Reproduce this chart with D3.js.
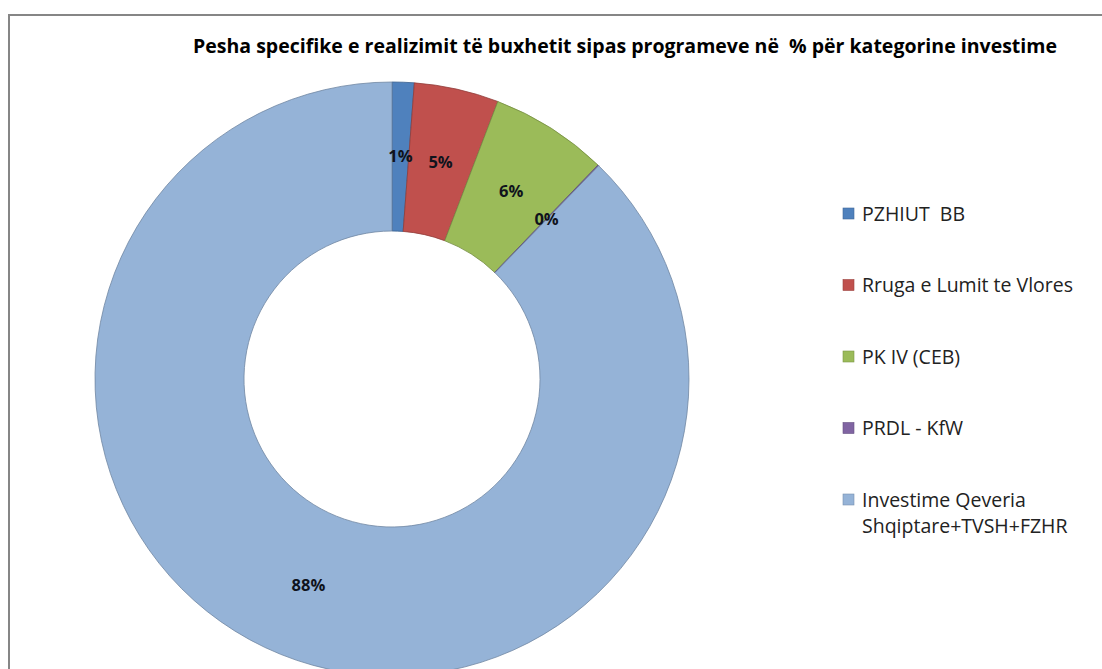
<!DOCTYPE html>
<html lang="sq">
<head>
<meta charset="UTF-8">
<title>Pesha specifike e realizimit</title>
<script src="https://d3js.org/d3.v7.min.js"></script>
<style>
  body { margin: 0; background: #fff; }
  text { font-family: "Open Sans", "Liberation Sans", sans-serif; }
</style>
</head>
<body>
<svg width="1102" height="669"></svg>
<script>
// data (share of total, %)
const programs = ["PZHIUT  BB", "Rruga e Lumit te Vlores", "PK IV (CEB)", "PRDL - KfW",
                  "Investime Qeveria Shqiptare+TVSH+FZHR"];
const shares = [1.2, 4.6, 6.4, 0.05, 87.75];
const colors = ["#4F81BD", "#C0504D", "#9BBB59", "#8064A2", "#95B3D7"];
const title = "Pesha specifike e realizimit të buxhetit sipas programeve në  % për kategorine investime";

const svg = d3.select("svg");

// chart frame
svg.append("rect")
    .attr("x", 9).attr("y", 15)
    .attr("width", 1110).attr("height", 700)
    .attr("fill", "#fff")
    .attr("stroke", "#868686")
    .attr("stroke-width", 2);

// title, sized to span the same width as in the picture
const t = svg.append("text")
    .attr("x", 625).attr("y", 53)
    .attr("text-anchor", "middle")
    .attr("font-size", 18)
    .attr("font-weight", "bold")
    .attr("fill", "#000")
    .style("white-space", "pre")
    .text(title);
const tw = t.node().getComputedTextLength();
t.attr("font-size", 18 * 865 / tw);

// donut
const cx = 392, cy = 379;
const outerR = 297, innerR = 148;

const pie = d3.pie().sort(null).value(d => d);
const arc = d3.arc().innerRadius(innerR).outerRadius(outerR);
const labelArc = d3.arc().innerRadius((innerR + outerR) / 2).outerRadius((innerR + outerR) / 2);

const g = svg.append("g").attr("transform", `translate(${cx},${cy})`);

const arcs = pie(shares);

g.selectAll("path")
    .data(arcs)
    .enter()
    .append("path")
    .attr("d", arc)
    .attr("fill", (d, i) => colors[i])
    .attr("stroke", (d, i) => d3.color(colors[i]).darker(0.8))
    .attr("stroke-width", 0.8);

g.selectAll("text.lbl")
    .data(arcs)
    .enter()
    .append("text")
    .attr("class", "lbl")
    .attr("transform", d => `translate(${labelArc.centroid(d)})`)
    .attr("text-anchor", "middle")
    .attr("dy", "0.35em")
    .attr("font-size", 16.5)
    .attr("font-weight", "bold")
    .attr("fill", "#10131c")
    .text(d => Math.round(d.data) + "%");

// legend
const legend = svg.append("g").attr("transform", "translate(843,0)");
const rowY = d3.scalePoint().domain(d3.range(programs.length)).range([214, 500]);

programs.forEach((name, i) => {
    const y = rowY(i);
    legend.append("rect")
        .attr("x", 0).attr("y", y - 6)
        .attr("width", 11).attr("height", 11)
        .attr("fill", colors[i])
        .attr("stroke", d3.color(colors[i]).darker(0.6))
        .attr("stroke-width", 0.6);
    const lines = i === programs.length - 1
        ? ["Investime Qeveria", "Shqiptare+TVSH+FZHR"]
        : [name];
    lines.forEach((line, j) => {
        legend.append("text")
            .attr("x", 19).attr("y", y + j * 26.5)
            .attr("dy", "0.35em")
            .attr("font-size", 19.5)
            .attr("fill", "#222")
            .style("white-space", "pre")
            .text(line);
    });
});
</script>
</body>
</html>
